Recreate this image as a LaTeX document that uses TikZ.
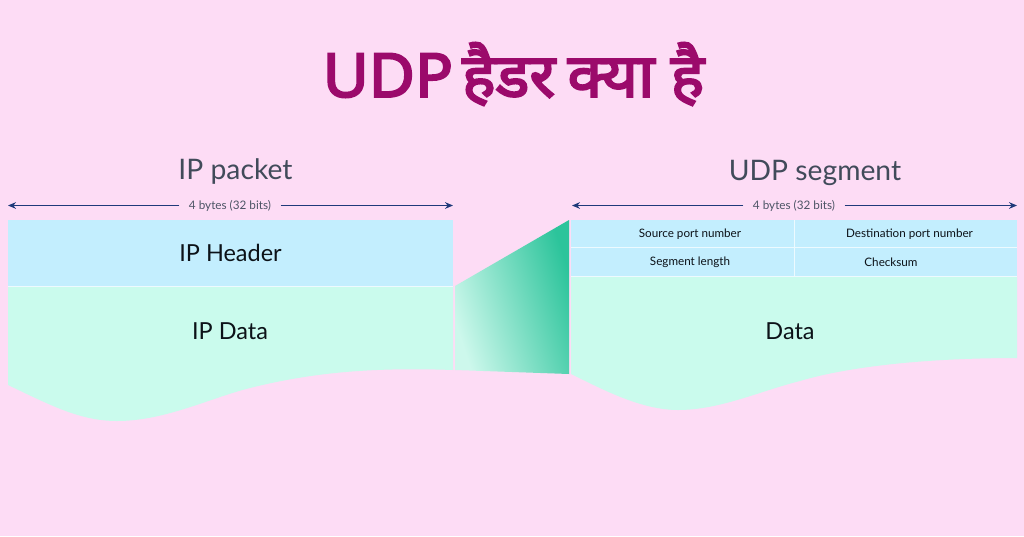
\documentclass[tikz,border=0pt]{standalone}
\usepackage{fontspec}
\setmainfont{Lato}
\newfontfamily\titlefont[Script=Devanagari,FakeBold=3.4,FakeStretch=1.04]{Noto Sans}
\definecolor{bgpink}{HTML}{FDDCF5}
\definecolor{hdrblue}{HTML}{C3EEFE}
\definecolor{datagreen}{HTML}{CAFBED}
\definecolor{titlecol}{HTML}{9B0A6B}
\definecolor{headcol}{HTML}{414B5A}
\definecolor{smallcol}{HTML}{4D5566}
\definecolor{arrowcol}{HTML}{1F3A7A}
\definecolor{gradhi}{HTML}{2CC49B}
\definecolor{gradlo}{HTML}{CDF8EC}
\definecolor{ink}{HTML}{0C1218}
\usetikzlibrary{arrows.meta}
\tikzset{
  headlabel/.style={font=\fontsize{21.2}{25}\selectfont,text=headcol,inner sep=0pt},
  sizelabel/.style={font=\fontsize{8.8}{10}\selectfont,text=smallcol,inner sep=0pt,fill=bgpink,inner xsep=7pt,minimum height=10pt},
  biglabel/.style={font=\fontsize{17.6}{21}\selectfont,text=ink,inner sep=0pt},
  celllabel/.style={font=\fontsize{8.75}{11}\selectfont,text=ink,inner sep=0pt},
  sizearrow/.style={draw=arrowcol,line width=0.8pt,-{Stealth[length=6pt,width=5pt]}},
  divider/.style={draw=white!70!hdrblue,line width=0.7pt}
}
\begin{document}
\begin{tikzpicture}[x=0.75pt,y=-0.75pt]
\fill[bgpink] (0,0) rectangle (1024,536);
\useasboundingbox (0,0) rectangle (1024,536);
\node[font=\titlefont\fontsize{45.5}{50}\selectfont,text=titlecol,inner sep=0pt] (title) at (513.5,74) {UDP \kern-5.5pt हैडर \kern-3pt क्या है};
\node[headlabel] (ipTitle) at (235.5,172) {IP packet};
\node[headlabel] (udpTitle) at (815,173) {UDP segment};
% left block
\fill[hdrblue] (8,220) rectangle (453,286);
\fill[datagreen] (8,286) -- (453,286) -- (453,370) .. controls (370,367) and (310,373) .. (250,388)
  .. controls (210,398) and (165,421) .. (117,421) .. controls (80,421) and (50,405) .. (8,385) -- cycle;
\draw[divider] (8,286.3) -- (453,286.3);
% connector wedge
\shade[left color=gradlo,right color=gradhi,shading angle=108] (455,286) -- (569,220) -- (569,374) -- (455,370) -- cycle;
% right block
\fill[hdrblue] (571,220) rectangle (1017,276);
\fill[datagreen] (571,276) -- (1017,276) -- (1017,358) .. controls (930,358) and (850,366) .. (800,381)
  .. controls (760,391) and (720,410) .. (678,410) .. controls (640,410) and (600,388) .. (571,374) -- cycle;
\draw[divider] (571,247.5) -- (1017,247.5);
\draw[divider] (571,276.3) -- (1017,276.3);
\draw[divider] (794.5,220) -- (794.5,276);
% labels
\node[sizelabel] (ipSize) at (230,205.5) {4 bytes (32 bits)};
\coordinate (ipL) at (8,205.5);
\coordinate (ipR) at (453,205.5);
\draw[sizearrow] (ipSize) -- (ipL);
\draw[sizearrow] (ipSize) -- (ipR);
\node[sizelabel] (udpSize) at (794,205.5) {4 bytes (32 bits)};
\coordinate (udpL) at (572,205.5);
\coordinate (udpR) at (1017,205.5);
\draw[sizearrow] (udpSize) -- (udpL);
\draw[sizearrow] (udpSize) -- (udpR);
\node[biglabel] (ipHeader) at (230.5,253) {IP Header};
\node[biglabel] (ipData) at (230,331.5) {IP Data};
\node[biglabel] (data) at (790,331) {Data};
\node[celllabel] (src) at (690,234.5) {Source port number};
\node[celllabel] (dst) at (909.5,234.5) {Destination port number};
\node[celllabel] (len) at (690,262.5) {Segment length};
\node[celllabel] (chk) at (891,262.5) {Checksum};
\end{tikzpicture}
\end{document}
